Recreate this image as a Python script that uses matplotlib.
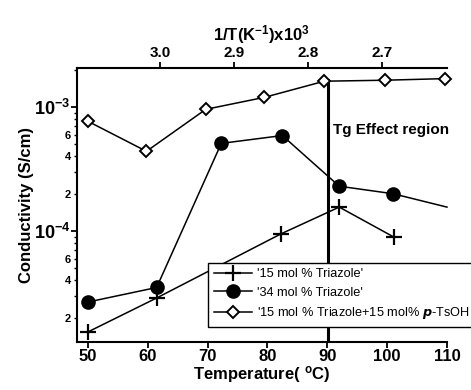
import numpy as np
import matplotlib
matplotlib.use("Agg")
import matplotlib.pyplot as plt
from matplotlib.ticker import FixedLocator, FixedFormatter

plt.rcParams['font.family'] = ['Liberation Sans', 'DejaVu Sans']
plt.rcParams['font.weight'] = 'bold'
plt.rcParams['mathtext.default'] = 'regular'

# data
t15 = [50, 61.5, 82.3, 92, 101.2]
s15 = [1.53e-5, 2.88e-5, 9.5e-5, 1.56e-4, 8.9e-5]

t34 = [50, 61.5, 72.3, 82.5, 92, 101, 110]
s34 = [2.67e-5, 3.5e-5, 5.1e-4, 5.9e-4, 2.3e-4, 2.0e-4, 1.56e-4]

t_ts = [50, 59.8, 69.7, 79.5, 89.5, 99.7, 109.7]
s_ts = [7.7e-4, 4.4e-4, 9.6e-4, 1.2e-3, 1.62e-3, 1.65e-3, 1.7e-3]

tg_temp = 90.2
inv_ticks = [3.0, 2.9, 2.8, 2.7]
inv_labels = ['3.0', '2.9', '2.8', '2.7']

fig = plt.figure(figsize=(4.71, 3.9), dpi=100)
ax = fig.add_axes([0.1635, 0.123, 0.7855, 0.7026])

ylo, yhi = 1.27e-5, 2.07e-3

# Tg line
ax.plot([tg_temp, tg_temp], [ylo, 1.65e-3], color='black', lw=2.2, zorder=2)

ax.plot(t15, s15, color='black', lw=1.1, marker='+', ms=11, mew=1.6,
        label="'15 mol % Triazole'", clip_on=False, zorder=3)
ax.plot(t34, s34, color='black', lw=1.1, marker='o', ms=9.5,
        markevery=list(range(len(t34) - 1)),
        label="'34 mol % Triazole'", clip_on=False, zorder=3)
ax.plot(t_ts, s_ts, color='black', lw=1.1, marker='D', ms=6, mew=1.4,
        mfc='white', label="'15 mol % Triazole+15 mol% $\\it{p}$-TsOH",
        clip_on=False, zorder=3)

ax.set_yscale('log')
ax.set_ylim(ylo, yhi)
ax.set_xlim(48.2, 110)

ax.set_xticks([50, 60, 70, 80, 90, 100, 110])
ax.tick_params(axis='x', labelsize=12, width=1.3, length=4, pad=1)

ax.yaxis.set_major_locator(FixedLocator([1e-4, 1e-3]))
ax.yaxis.set_major_formatter(FixedFormatter(['$10^{-4}$', '$10^{-3}$']))
minor = [m * 10.0 ** e for e in (-5, -4, -3) for m in range(2, 10)]
minor_lab = []
for v in minor:
    m = round(v / 10 ** np.floor(np.log10(v) + 1e-9))
    minor_lab.append(str(m) if m in (2, 4, 6) and v < 1e-3 else '')
ax.yaxis.set_minor_locator(FixedLocator(minor))
ax.yaxis.set_minor_formatter(FixedFormatter(minor_lab))
ax.tick_params(axis='y', which='major', labelsize=13, width=1.3, length=4, pad=1)
ax.tick_params(axis='y', which='minor', labelsize=8, width=1, length=2.5, pad=2)

for s in ['top', 'right']:
    ax.spines[s].set_visible(False)
for s in ['left', 'bottom']:
    ax.spines[s].set_linewidth(1.5)

ax.set_xlabel('Temperature( $^{o}$C)', fontsize=12, fontweight='bold', labelpad=0)
ax.set_ylabel('Conductivity (S/cm)', fontsize=12, fontweight='bold', labelpad=0)

ax.text(91.0, 6.5e-4, 'Tg Effect region', fontsize=11, fontweight='bold',
        va='center', ha='left', clip_on=False)

# top axis: 1/T
ax2 = ax.twiny()
ax2.set_xlim(3.112, 2.612)
ax2.set_xticks(inv_ticks)
ax2.set_xticklabels(inv_labels)
ax2.tick_params(axis='x', labelsize=11, width=1.3, length=4, pad=2)
for s in ['bottom', 'left', 'right']:
    ax2.spines[s].set_visible(False)
ax2.spines['top'].set_linewidth(1.5)
ax2.set_xlabel('1/T(K$^{-1}$)x10$^{3}$', fontsize=12, fontweight='bold', labelpad=4)

leg = ax.legend(loc='lower left', bbox_to_anchor=(0.4416, 0.1615),
                bbox_transform=fig.transFigure, fancybox=False,
                edgecolor='black', framealpha=1, handlelength=3,
                borderaxespad=0, prop={'size': 9.2, 'weight': 'normal'},
                labelspacing=0.5, borderpad=0.45, handletextpad=0.4)
leg.get_frame().set_linewidth(1.0)
leg.set_zorder(5)

fig.savefig('out.png', dpi=100)
